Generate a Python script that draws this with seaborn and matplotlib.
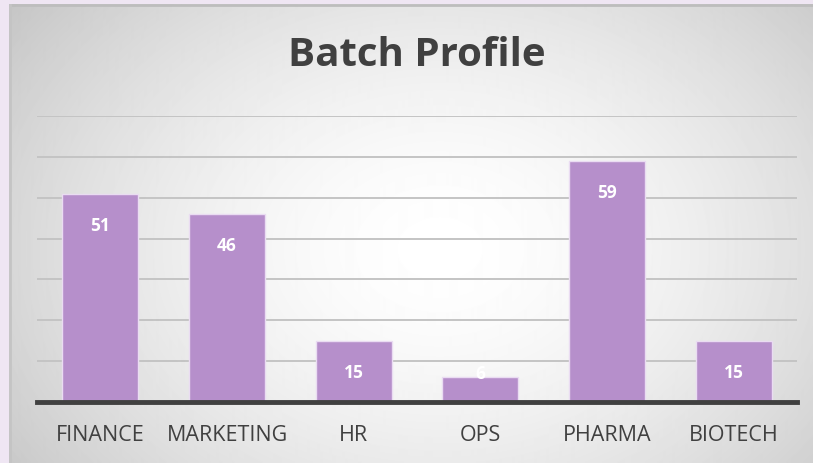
import numpy as np
import pandas as pd
import matplotlib.pyplot as plt
import seaborn as sns

# chart data
categories = ['FINANCE', 'MARKETING', 'HR', 'OPS', 'PHARMA', 'BIOTECH']
counts = [51, 46, 15, 6, 59, 15]
df = pd.DataFrame({'Stream': categories, 'Students': counts})

sns.set_theme(style='white')
plt.rcParams['font.family'] = ['Open Sans', 'DejaVu Sans']

W, H = 813, 464
fig = plt.figure(figsize=(W / 100, H / 100), dpi=100)
fig.patch.set_facecolor('#efe6f3')

# panel with radial gradient background
bg = fig.add_axes([9 / W, 0, 1 - 9 / W, 1 - 5 / H])
yy, xx = np.mgrid[0:459, 0:804]
r = np.sqrt(((xx - 430) / 560) ** 2 + ((yy - 245) / 420) ** 2)
shade = np.clip(1 - 0.24 * r ** 1.6, 0, 1)
bg.imshow(shade, cmap='gray', vmin=0, vmax=1, aspect='auto', interpolation='bilinear')
bg.axhline(0, color='#bdbdbd', lw=2)
bg.axvline(0, color='#c4c4c4', lw=2)
bg.set_axis_off()

ax = fig.add_axes([37 / W, (H - 403) / H, 760 / W, (403 - 117) / H])
ax.patch.set_alpha(0)
sns.barplot(data=df, x='Stream', y='Students', color='#b68fcb', width=0.6,
            edgecolor='#eadcf2', linewidth=1.0, saturation=1, ax=ax, zorder=3)

ax.set_ylim(0, 70)
ax.set_xlim(-0.5, len(categories) - 0.5)
ax.set_yticks(range(10, 71, 10))
ax.yaxis.grid(True, color='#c4c4c4', lw=1.4, zorder=0)
ax.tick_params(axis='y', left=False, labelleft=False)
ax.tick_params(axis='x', bottom=False, labelsize=15.5, labelcolor='#404040', pad=10)
ax.set_xlabel('')
ax.set_ylabel('')
for s in ['top', 'right', 'left']:
    ax.spines[s].set_visible(False)
ax.spines['bottom'].set_color('#404040')
ax.spines['bottom'].set_linewidth(3.5)
ax.spines['bottom'].set_zorder(5)

for i, v in enumerate(counts):
    y = v - 7.6 if v > 10 else v + 1.1
    ax.text(i, y, str(v), ha='center', va='center', color='white',
            fontsize=12.5, fontweight='bold', zorder=4)

fig.text(417 / W, 1 - 55 / H, 'Batch Profile', ha='center', va='center',
         fontsize=29, fontweight='bold', color='#404040')

fig.savefig('out.png', dpi=100, facecolor=fig.get_facecolor())
